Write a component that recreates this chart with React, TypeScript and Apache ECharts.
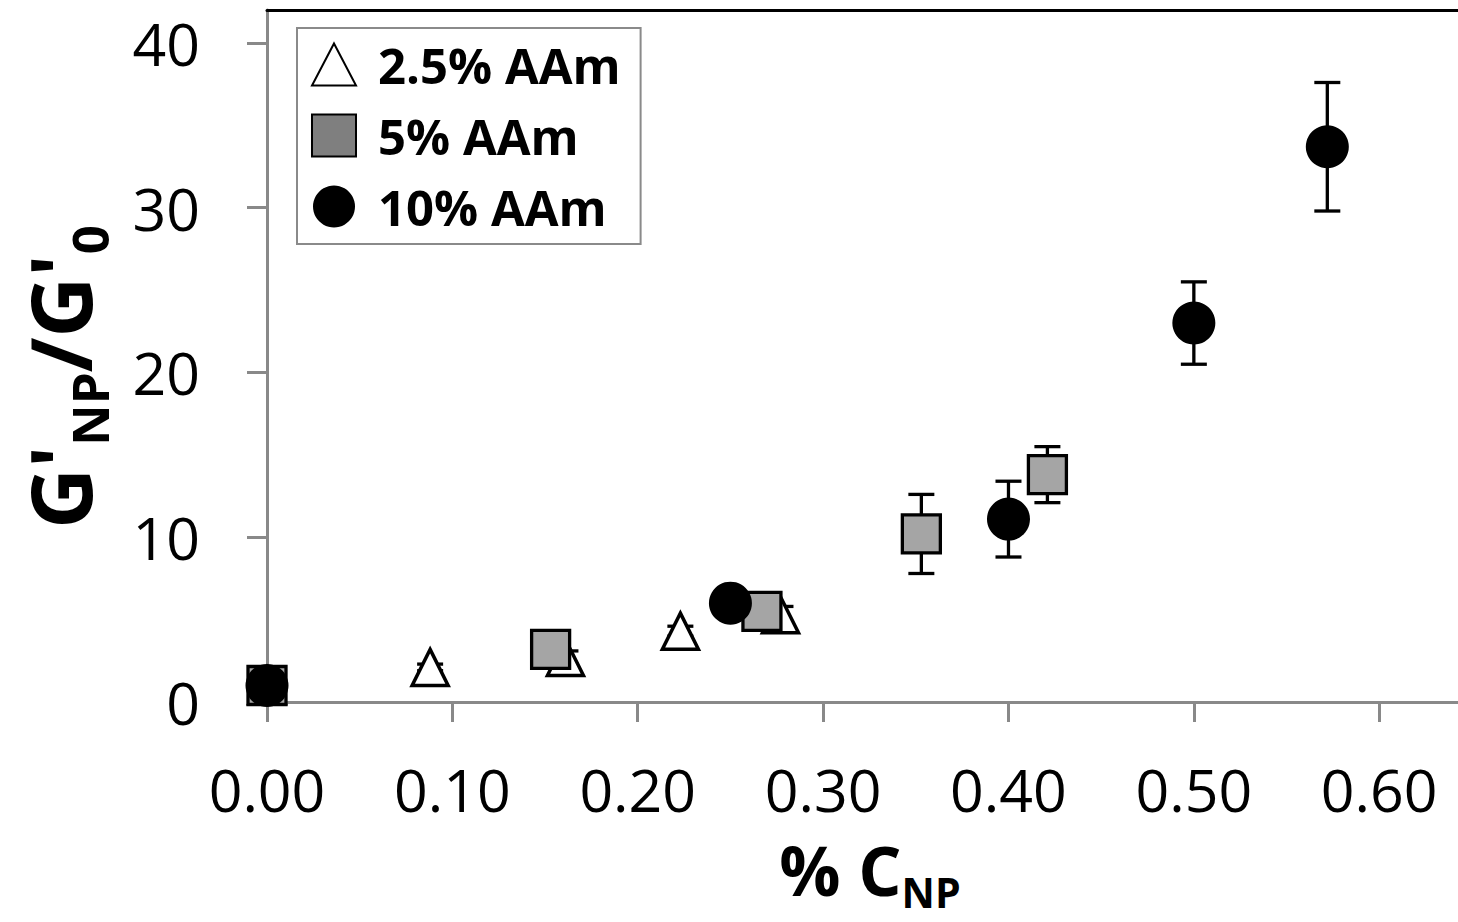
import { useEffect, useRef } from 'react';
import * as echarts from 'echarts';

// Storage modulus ratio G'NP/G'0 vs nanoparticle concentration, three AAm contents
const seriesNames = ['2.5% AAm', '5% AAm', '10% AAm'];

const aam25X = [0, 0.088, 0.161, 0.223, 0.277];
const aam25Y = [1.0, 2.1, 2.7, 4.3, 5.3];
const aam25Err = [0.1, 0.2, 0.4, 0.3, 0.5];

const aam5X = [0, 0.153, 0.267, 0.353, 0.421];
const aam5Y = [1.0, 3.2, 5.5, 10.2, 13.8];
const aam5Err = [0.1, 0.3, 0.3, 2.4, 1.7];

const aam10X = [0, 0.25, 0.4, 0.5, 0.572];
const aam10Y = [1.0, 6.0, 11.1, 23.0, 33.7];
const aam10Err = [0.1, 0.3, 2.3, 2.5, 3.9];

const xTicks = [0, 0.1, 0.2, 0.3, 0.4, 0.5, 0.6];
const yTicks = [0, 10, 20, 30, 40];

const FONT = '"Open Sans", "Noto Sans", sans-serif';
const AXIS_GRAY = '#898989';

const zip = (xs: number[], ys: number[]) => xs.map((x, i) => [x, ys[i]]);
const zip3 = (xs: number[], ys: number[], es: number[]) => xs.map((x, i) => [x, ys[i], es[i]]);

// Vertical error bar with caps, drawn under the markers
const errorBarItem = (_params: any, api: any) => {
  const x = api.value(0);
  const y = api.value(1);
  const e = api.value(2);
  const hi = api.coord([x, y + e]);
  const lo = api.coord([x, y - e]);
  const half = 13;
  const style = { stroke: '#000', lineWidth: 3.3 };
  return {
    type: 'group',
    children: [
      { type: 'line', shape: { x1: hi[0], y1: hi[1], x2: lo[0], y2: lo[1] }, style },
      { type: 'line', shape: { x1: hi[0] - half, y1: hi[1], x2: hi[0] + half, y2: hi[1] }, style },
      { type: 'line', shape: { x1: lo[0] - half, y1: lo[1], x2: lo[0] + half, y2: lo[1] }, style },
    ],
  };
};

const errorSeries = (data: number[][]) => ({
  type: 'custom',
  renderItem: errorBarItem,
  data,
  encode: { x: 0, y: 1 },
  z: 1,
  silent: true,
});

// Rich-text styles for a bold label with a subscript: the main part hangs from the
// top of the line, the subscript sits at the bottom of a taller line box.
const titleRich = (main: number, sub: number, drop: number) => {
  const mainBaseline = main / 2 + 0.388 * main;
  const subCenter = mainBaseline + drop - 0.388 * sub;
  return {
    a: {
      fontFamily: FONT,
      fontSize: main,
      fontWeight: 'bold',
      color: '#000',
      lineHeight: main,
      verticalAlign: 'top',
    },
    s: {
      fontFamily: FONT,
      fontSize: sub,
      fontWeight: 'bold',
      color: '#000',
      lineHeight: subCenter + sub / 2,
      verticalAlign: 'bottom',
    },
  };
};

export default function App() {
  const ref = useRef<HTMLDivElement>(null);

  useEffect(() => {
    if (!ref.current) return;
    const chart = echarts.init(ref.current, null, { renderer: 'svg' });

    chart.setOption({
      animation: false,
      backgroundColor: '#fff',
      grid: { left: 267, right: 0, top: 10, bottom: 220, containLabel: false, outerBoundsMode: 'none' },
      legend: {
        orient: 'vertical',
        left: 297,
        top: 28,
        padding: [12, 20, 13, 14],
        itemWidth: 44,
        itemHeight: 42,
        itemGap: 22,
        borderColor: '#8a8a8a',
        borderWidth: 2,
        backgroundColor: '#fff',
        selectedMode: false,
        formatter: (n: string) => `{t|${n}}`,
        textStyle: {
          rich: {
            t: {
              fontFamily: FONT,
              fontSize: 49,
              fontWeight: 'bold',
              color: '#000',
              lineHeight: 42,
              padding: [0, 0, 0, 17],
            },
          },
        },
        data: [
          { name: seriesNames[0], icon: 'triangle' },
          { name: seriesNames[1], icon: 'rect', itemStyle: { color: '#7f7f7f' } },
          { name: seriesNames[2], icon: 'circle' },
        ],
      },
      xAxis: [
        {
          type: 'value',
          min: 0,
          max: 0.6425,
          position: 'bottom',
          axisLine: { show: true, onZero: false, lineStyle: { color: AXIS_GRAY, width: 3 } },
          axisTick: { show: true, length: 20, customValues: xTicks, lineStyle: { color: AXIS_GRAY, width: 3 } },
          axisLabel: {
            customValues: xTicks,
            formatter: (v: number) => v.toFixed(2),
            margin: 57,
            fontSize: 59,
            fontFamily: FONT,
            color: '#000',
          },
          splitLine: { show: false },
        },
        {
          type: 'value',
          min: 0,
          max: 0.6425,
          position: 'top',
          axisLine: { show: true, onZero: false, lineStyle: { color: '#000', width: 3 } },
          axisTick: { show: false },
          axisLabel: { show: false },
          splitLine: { show: false },
        },
      ],
      yAxis: {
        type: 'value',
        min: 0,
        max: 42,
        axisLine: { show: true, onZero: false, lineStyle: { color: AXIS_GRAY, width: 3 } },
        axisTick: { show: true, length: 20, customValues: yTicks, lineStyle: { color: AXIS_GRAY, width: 3 } },
        axisLabel: {
          customValues: yTicks,
          margin: 67,
          fontSize: 59,
          fontFamily: FONT,
          color: '#000',
        },
        splitLine: { show: false },
      },
      graphic: [
        {
          type: 'text',
          x: 870,
          y: 835,
          style: {
            text: '{a|% C}{s|NP}',
            align: 'center',
            verticalAlign: 'top',
            textAlign: 'center',
            textVerticalAlign: 'top',
            rich: titleRich(68, 41, 13),
          },
        },
        {
          type: 'text',
          x: 17,
          y: 377,
          rotation: Math.PI / 2,
          style: {
            text: "{a|G'}{s|NP}{a|/G'}{s|0}",
            align: 'center',
            verticalAlign: 'top',
            textAlign: 'center',
            textVerticalAlign: 'top',
            rich: titleRich(84, 51, 17),
          },
        },
      ],
      series: [
        errorSeries(zip3(aam25X, aam25Y, aam25Err)),
        errorSeries(zip3(aam5X, aam5Y, aam5Err)),
        errorSeries(zip3(aam10X, aam10Y, aam10Err)),
        {
          name: seriesNames[0],
          type: 'scatter',
          data: zip(aam25X, aam25Y),
          symbol: 'triangle',
          symbolSize: 36,
          itemStyle: { color: '#fff', borderColor: '#000', borderWidth: 3.5, opacity: 1 },
          z: 2,
        },
        {
          name: seriesNames[1],
          type: 'scatter',
          data: zip(aam5X, aam5Y),
          symbol: 'rect',
          symbolSize: 38,
          itemStyle: { color: '#a5a5a5', borderColor: '#000', borderWidth: 3.3, opacity: 1 },
          z: 2,
        },
        {
          name: seriesNames[2],
          type: 'scatter',
          data: zip(aam10X, aam10Y),
          symbol: 'circle',
          symbolSize: 43,
          itemStyle: { color: '#000', opacity: 1 },
          z: 2,
        },
      ],
    });

    return () => chart.dispose();
  }, []);

  return (
    <div
      ref={ref}
      style={{ position: 'absolute', left: 0, top: 0, width: 1458, height: 922 }}
    />
  );
}
